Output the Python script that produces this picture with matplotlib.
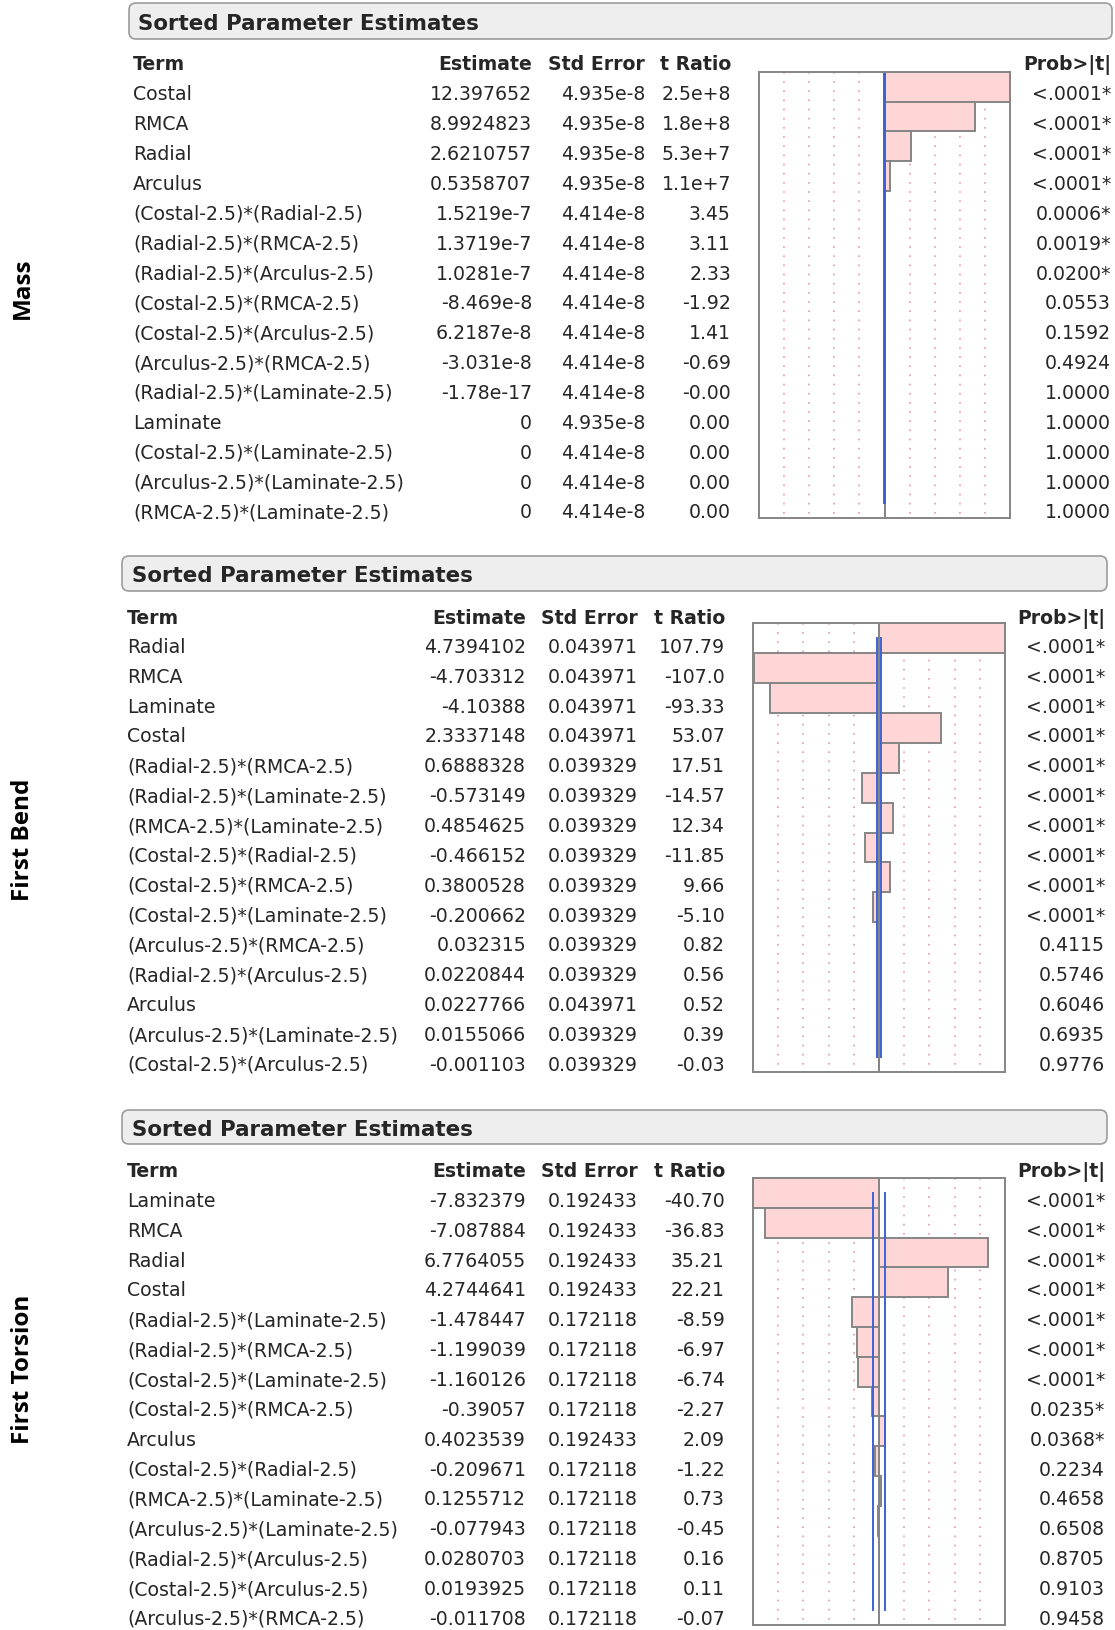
import matplotlib
matplotlib.use("Agg")
import matplotlib.pyplot as plt
from matplotlib.patches import FancyBboxPatch
import numpy as np

W, H = 1115, 1631

# ---- Mass ----
mass_terms = ["Costal", "RMCA", "Radial", "Arculus",
              "(Costal-2.5)*(Radial-2.5)", "(Radial-2.5)*(RMCA-2.5)",
              "(Radial-2.5)*(Arculus-2.5)", "(Costal-2.5)*(RMCA-2.5)",
              "(Costal-2.5)*(Arculus-2.5)", "(Arculus-2.5)*(RMCA-2.5)",
              "(Radial-2.5)*(Laminate-2.5)", "Laminate",
              "(Costal-2.5)*(Laminate-2.5)", "(Arculus-2.5)*(Laminate-2.5)",
              "(RMCA-2.5)*(Laminate-2.5)"]
mass_est = ["12.397652", "8.9924823", "2.6210757", "0.5358707", "1.5219e-7",
            "1.3719e-7", "1.0281e-7", "-8.469e-8", "6.2187e-8", "-3.031e-8",
            "-1.78e-17", "0", "0", "0", "0"]
mass_se = ["4.935e-8", "4.935e-8", "4.935e-8", "4.935e-8", "4.414e-8",
           "4.414e-8", "4.414e-8", "4.414e-8", "4.414e-8", "4.414e-8",
           "4.414e-8", "4.935e-8", "4.414e-8", "4.414e-8", "4.414e-8"]
mass_t = ["2.5e+8", "1.8e+8", "5.3e+7", "1.1e+7", "3.45", "3.11", "2.33",
          "-1.92", "1.41", "-0.69", "-0.00", "0.00", "0.00", "0.00", "0.00"]
mass_p = ["<.0001*", "<.0001*", "<.0001*", "<.0001*", "0.0006*", "0.0019*",
          "0.0200*", "0.0553", "0.1592", "0.4924", "1.0000", "1.0000",
          "1.0000", "1.0000", "1.0000"]

# ---- First Bend ----
bend_terms = ["Radial", "RMCA", "Laminate", "Costal",
              "(Radial-2.5)*(RMCA-2.5)", "(Radial-2.5)*(Laminate-2.5)",
              "(RMCA-2.5)*(Laminate-2.5)", "(Costal-2.5)*(Radial-2.5)",
              "(Costal-2.5)*(RMCA-2.5)", "(Costal-2.5)*(Laminate-2.5)",
              "(Arculus-2.5)*(RMCA-2.5)", "(Radial-2.5)*(Arculus-2.5)",
              "Arculus", "(Arculus-2.5)*(Laminate-2.5)",
              "(Costal-2.5)*(Arculus-2.5)"]
bend_est = ["4.7394102", "-4.703312", "-4.10388", "2.3337148", "0.6888328",
            "-0.573149", "0.4854625", "-0.466152", "0.3800528", "-0.200662",
            "0.032315", "0.0220844", "0.0227766", "0.0155066", "-0.001103"]
bend_se = ["0.043971", "0.043971", "0.043971", "0.043971", "0.039329",
           "0.039329", "0.039329", "0.039329", "0.039329", "0.039329",
           "0.039329", "0.039329", "0.043971", "0.039329", "0.039329"]
bend_t = ["107.79", "-107.0", "-93.33", "53.07", "17.51", "-14.57", "12.34",
          "-11.85", "9.66", "-5.10", "0.82", "0.56", "0.52", "0.39", "-0.03"]
bend_p = ["<.0001*"] * 10 + ["0.4115", "0.5746", "0.6046", "0.6935", "0.9776"]

# ---- First Torsion ----
tors_terms = ["Laminate", "RMCA", "Radial", "Costal",
              "(Radial-2.5)*(Laminate-2.5)", "(Radial-2.5)*(RMCA-2.5)",
              "(Costal-2.5)*(Laminate-2.5)", "(Costal-2.5)*(RMCA-2.5)",
              "Arculus", "(Costal-2.5)*(Radial-2.5)",
              "(RMCA-2.5)*(Laminate-2.5)", "(Arculus-2.5)*(Laminate-2.5)",
              "(Radial-2.5)*(Arculus-2.5)", "(Costal-2.5)*(Arculus-2.5)",
              "(Arculus-2.5)*(RMCA-2.5)"]
tors_est = ["-7.832379", "-7.087884", "6.7764055", "4.2744641", "-1.478447",
            "-1.199039", "-1.160126", "-0.39057", "0.4023539", "-0.209671",
            "0.1255712", "-0.077943", "0.0280703", "0.0193925", "-0.011708"]
tors_se = ["0.192433", "0.192433", "0.192433", "0.192433", "0.172118",
           "0.172118", "0.172118", "0.172118", "0.192433", "0.172118",
           "0.172118", "0.172118", "0.172118", "0.172118", "0.172118"]
tors_t = ["-40.70", "-36.83", "35.21", "22.21", "-8.59", "-6.97", "-6.74",
          "-2.27", "2.09", "-1.22", "0.73", "-0.45", "0.16", "0.11", "-0.07"]
tors_p = ["<.0001*"] * 7 + ["0.0235*", "0.0368*", "0.2234", "0.4658",
                            "0.6508", "0.8705", "0.9103", "0.9458"]

side_labels = ["Mass", "First Bend", "First Torsion"]
col_heads = ["Term", "Estimate", "Std Error", "t Ratio", "Prob>|t|"]
T_CRIT = 1.97  # 0.05 critical value shown by the blue lines

# layout (pixels): header bar, column x, text rows, bar box
panels = [
    dict(terms=mass_terms, est=mass_est, se=mass_se, t=mass_t, p=mass_p,
         bar=(129, 4, 1112, 40), title_x=138,
         cols=(133, 532, 645, 731, 1111), head_y=63.5, rows=(93.5, 511.5),
         box=(759, 73, 1010, 519), label_y=288),
    dict(terms=bend_terms, est=bend_est, se=bend_se, t=bend_t, p=bend_p,
         bar=(122, 557, 1107, 592), title_x=132,
         cols=(127, 526, 637.5, 725, 1105), head_y=617, rows=(646, 1064),
         box=(753, 624, 1005, 1073), label_y=840),
    dict(terms=tors_terms, est=tors_est, se=tors_se, t=tors_t, p=tors_p,
         bar=(122, 1111, 1107, 1145), title_x=132,
         cols=(127, 526, 637.5, 725, 1105), head_y=1170, rows=(1200, 1618),
         box=(753, 1179, 1005, 1626), label_y=1369),
]

FS = 13.6
TXT = "#262626"
PINK = "#ffd6d6"
EDGE = "#858585"
BLUE = "#3d62d8"
DOT = "#e79aa6"

fig = plt.figure(figsize=(W / 100, H / 100), dpi=100)
fig.patch.set_facecolor("white")
ax0 = fig.add_axes([0, 0, 1, 1])
ax0.set_xlim(0, W)
ax0.set_ylim(H, 0)
ax0.axis("off")


def put(x, y, s, ha="left", bold=False, size=FS):
    # y is the visual centre of the capitals
    ax0.text(x, y + 0.365 * size * 1.389, s, ha=ha, va="baseline",
             fontsize=size, color=TXT, fontfamily="DejaVu Sans",
             fontweight="bold" if bold else "normal")


for k, pn in enumerate(panels):
    x0, y0, x1, y1 = pn["bar"]
    ax0.add_patch(FancyBboxPatch((x0, y0), x1 - x0, y1 - y0,
                                 boxstyle="round,pad=0,rounding_size=7",
                                 facecolor="#eeeeee", edgecolor="#9c9c9c",
                                 linewidth=1.2))
    put(pn["title_x"], (y0 + y1) / 2, "Sorted Parameter Estimates",
        bold=True, size=15.4)

    cx = pn["cols"]
    aligns = ["left", "right", "right", "right", "right"]
    for j, head in enumerate(col_heads):
        put(cx[j], pn["head_y"], head, ha=aligns[j], bold=True)

    ys = np.linspace(pn["rows"][0], pn["rows"][1], len(pn["terms"]))
    for i, y in enumerate(ys):
        vals = [pn["terms"][i], pn["est"][i], pn["se"][i], pn["t"][i], pn["p"][i]]
        for j, v in enumerate(vals):
            put(cx[j], y, v, ha=aligns[j])

    ax0.text(23, pn["label_y"], side_labels[k], rotation=90, ha="center",
             va="center", fontsize=17.5, fontfamily="Open Sans",
             fontweight="bold", color="black")

    # bar chart of t ratios
    bx0, by0, bx1, by1 = pn["box"]
    ax = fig.add_axes([bx0 / W, 1 - by1 / H, (bx1 - bx0) / W, (by1 - by0) / H])
    tv = np.array([float(s) for s in pn["t"]])
    n = len(tv)
    tmax = np.abs(tv).max()
    ax.set_xlim(-tmax, tmax)
    ax.set_ylim(n - 0.5, -0.5)
    for f in (-0.8, -0.6, -0.4, -0.2, 0.2, 0.4, 0.6, 0.8):
        ax.plot([f * tmax, f * tmax], [-0.5, n - 0.5], color=DOT, lw=1.2,
                linestyle=(0, (1, 4.5)), zorder=1)
    ax.barh(np.arange(n), tv, height=1.0, color=PINK, edgecolor=EDGE,
            linewidth=1.4, zorder=2)
    ax.plot([0, 0], [-0.5, n - 0.5], color=EDGE, lw=1.4, zorder=3)
    top = -0.5 if k == 0 else 0
    for c in (-T_CRIT, T_CRIT):
        ax.plot([c, c], [top, n - 1], color=BLUE, lw=1.4, zorder=4)
    ax.set_xticks([])
    ax.set_yticks([])
    for sp in ax.spines.values():
        sp.set_color(EDGE)
        sp.set_linewidth(1.4)
        sp.set_zorder(5)

fig.savefig("out.png", dpi=100, facecolor="white")
